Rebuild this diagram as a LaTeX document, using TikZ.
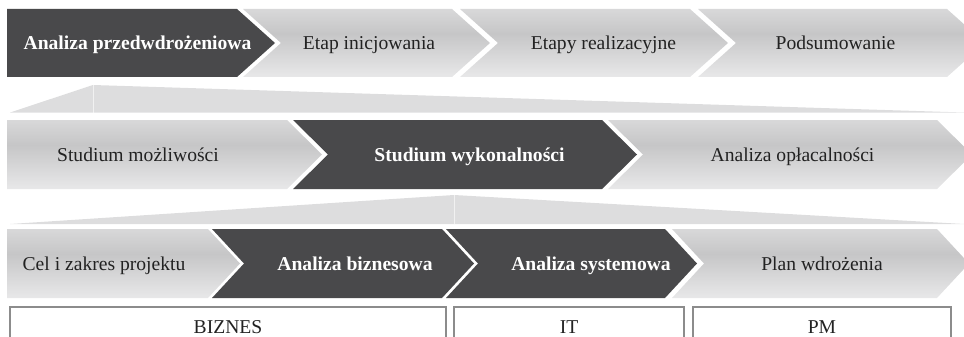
\documentclass[tikz,border=0pt]{standalone}
\usepackage{fontspec}
\setmainfont{Liberation Serif}
\usepackage{tikz}

\definecolor{chevdark}{RGB}{73,73,75}
\definecolor{chevhi}{RGB}{216,216,217}
\definecolor{chevmid}{RGB}{198,198,199}
\definecolor{chevlo}{RGB}{232,232,233}
\definecolor{wedgegray}{RGB}{221,221,222}
\definecolor{boxgray}{RGB}{140,140,140}
\definecolor{textgray}{RGB}{34,34,34}

% light chevrons: light top, darker band, lightest bottom
\pgfdeclareverticalshading{chevshade}{100bp}{color(0bp)=(chevlo); color(25bp)=(chevlo); color(57bp)=(chevmid); color(75bp)=(chevhi); color(100bp)=(chevhi)}

\tikzset{
  lightchev/.style={shading=chevshade},
  darkchev/.style={fill=chevdark},
  wedge/.style={fill=wedgegray},
  lbl/.style={font=\fontsize{19.6}{23}\selectfont, text=textgray, anchor=base, inner sep=0pt},
  boldlbl/.style={lbl, font=\fontsize{19.6}{23}\selectfont\bfseries, text=white},
  groupbox/.style={draw=boxgray, line width=1.4pt}
}

\begin{document}
\begin{tikzpicture}[x=1pt, y=-1pt]
  \useasboundingbox (0,0) rectangle (964,337);

  % row 1: phases
  \path[darkchev] (7,9) -- (237,9) -- (275,43) -- (237,77) -- (7,77) -- cycle;
  \path[lightchev] (243,9) -- (452,9) -- (490,43) -- (452,77) -- (243,77) -- (281,43) -- cycle;
  \path[lightchev] (460,9) -- (690,9) -- (728,43) -- (690,77) -- (460,77) -- (498,43) -- cycle;
  \path[lightchev] (698,9) -- (947,9) -- (985,43) -- (947,77) -- (698,77) -- (736,43) -- cycle;

  \node[boldlbl] (przed) at (137.5,50) {Analiza przedwdrożeniowa};
  \node[lbl] (inic) at (369,50) {Etap inicjowania};
  \node[lbl] (real) at (603.5,50) {Etapy realizacyjne};
  \node[lbl] (podsum) at (835.5,50) {Podsumowanie};

  % first wedge
  \path[wedge] (10,112.5) -- (93,85) -- (964,112.5) -- cycle;
  \draw[white, opacity=0.6, line width=0.6pt] (93,85) -- (93,112.5);

  % row 2: pre-implementation analysis
  \path[lightchev] (7,120) -- (287,120) -- (322,154.5) -- (287,189) -- (7,189) -- cycle;
  \path[darkchev] (293,120) -- (602,120) -- (637,154.5) -- (602,189) -- (293,189) -- (328,154.5) -- cycle;
  \path[lightchev] (608,120) -- (937,120) -- (972,154.5) -- (937,189) -- (608,189) -- (643,154.5) -- cycle;

  \node[lbl] (mozl) at (138,161) {Studium możliwości};
  \node[boldlbl] (wyk) at (469.5,161) {Studium wykonalności};
  \node[lbl] (oplac) at (792.5,161) {Analiza opłacalności};

  % second wedge
  \path[wedge] (10,224) -- (454,195) -- (964,224) -- cycle;
  \draw[white, opacity=0.6, line width=0.6pt] (454,195) -- (454,224);

  % row 3: feasibility study
  \path[lightchev] (7,229) -- (208,229) -- (240,263.5) -- (208,298) -- (7,298) -- cycle;
  \path[darkchev] (212,229) -- (442,229) -- (474,263.5) -- (442,298) -- (212,298) -- (244,263.5) -- cycle;
  \path[darkchev] (446,229) -- (665,229) -- (697,263.5) -- (665,298) -- (446,298) -- (478,263.5) -- cycle;
  \path[lightchev] (672,229) -- (937,229) -- (969,263.5) -- (937,298) -- (672,298) -- (704,263.5) -- cycle;

  \node[lbl] (cel) at (104,270) {Cel i zakres projektu};
  \node[boldlbl] (bizn) at (355,270) {Analiza biznesowa};
  \node[boldlbl] (syst) at (591,270) {Analiza systemowa};
  \node[lbl] (plan) at (822,270) {Plan wdrożenia};

  % groups
  \draw[groupbox] (10,307) rectangle (446,360);
  \draw[groupbox] (454,307) rectangle (684,360);
  \draw[groupbox] (693,307) rectangle (951,360);

  \node[lbl] (gbiz) at (228,333) {BIZNES};
  \node[lbl] (git) at (569,333) {IT};
  \node[lbl] (gpm) at (822,333) {PM};
\end{tikzpicture}
\end{document}
